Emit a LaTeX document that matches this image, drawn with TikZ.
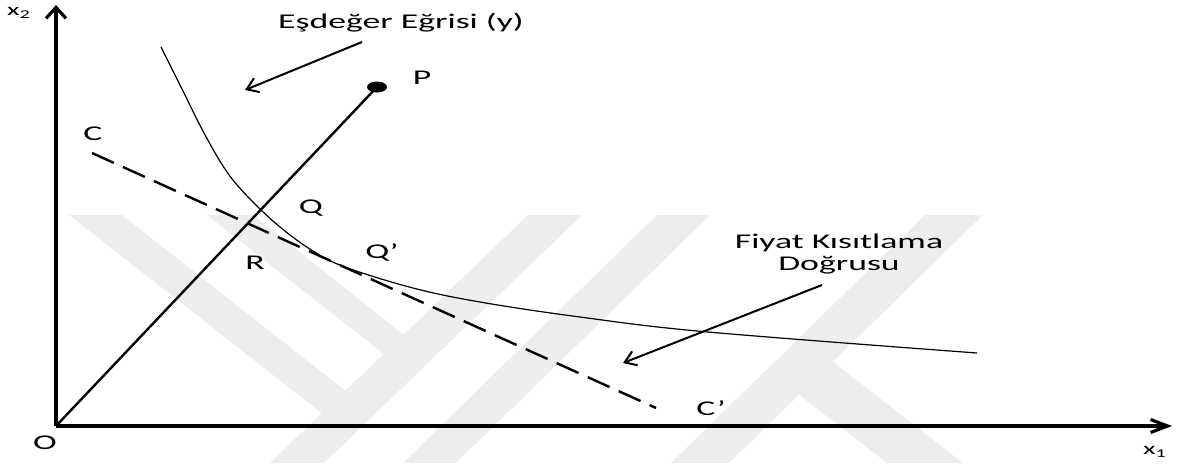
\documentclass[tikz,border=0pt]{standalone}
\usepackage{fontspec}
\setmainfont{Carlito}
\usetikzlibrary{arrows.meta,shapes.geometric}
\newcommand\widetxt[1]{\scalebox{1.7}[1]{#1}}
\begin{document}
\begin{tikzpicture}[x=1pt,y=-1pt,
  lbl/.style={inner sep=0pt, font=\fontsize{21}{25}\selectfont},
  axlbl/.style={inner sep=0pt, font=\fontsize{17}{20}\selectfont},
  wm/.style={fill=black!7, draw=none},
  axisline/.style={line width=3.2pt},
  ray/.style={line width=2.4pt},
  budget/.style={line width=2.4pt, dash pattern=on 24pt off 10pt},
  iso/.style={line width=1.2pt},
  callout/.style={line width=2pt, -{Straight Barb[length=11pt,width=15pt]}},
  dot/.style={ellipse, fill=black, draw=none, minimum width=20pt, minimum height=11pt, inner sep=0pt},
]
\useasboundingbox (0,0) rectangle (1177,463);
% watermark
\fill[wm] (528,215) -- (582,215) -- (324,463) -- (270,463) -- cycle;
\fill[wm] (69,215) -- (122,215) -- (347,392) -- (324,415) -- cycle;
\fill[wm] (207,215) -- (253,215) -- (405,336) -- (385,355) -- cycle;
\fill[wm] (657,215) -- (710,215) -- (456,463) -- (403,463) -- cycle;
\fill[wm] (925,215) -- (983,215) -- (729,463) -- (671,463) -- cycle;
\fill[wm] (798,394) -- (832,361) -- (963,463) -- (887,463) -- cycle;

% coordinates
\coordinate (O) at (56,426);
\coordinate (ytip) at (56,5);
\coordinate (xtip) at (1172,426);
\node[dot] (P) at (377,87) {};
\coordinate (Cs) at (92,153);
\coordinate (Ce) at (656,408);
\coordinate (a1s) at (362,42);
\coordinate (a1e) at (245,90);
\coordinate (a2s) at (822,285);
\coordinate (a2e) at (623,363);

% axes
\draw[axisline, -{Straight Barb[length=11pt,width=20pt]}] (O) -- (ytip);
\draw[axisline, -{Straight Barb[length=17pt,width=13pt]}] (O) -- (xtip);

% ray
\draw[ray] (O) -- (P.center);

% budget line
\draw[budget] (Cs) -- (Ce);

% isoquant
\draw[iso] plot[smooth, tension=0.6] coordinates {(161,47) (183,91) (204,133) (227,172) (250,199) (280,227) (313,251) (345,267) (413,288) (480,302) (580,317) (708,332) (977,353)};

% callouts
\draw[callout] (a1s) -- (a1e);
\draw[callout] (a2s) -- (a2e);

% labels
\node[lbl] (tIso) at (401,23) {\widetxt{Eşdeğer Eğrisi (y)}};
\node[lbl] (tP) at (422,78) {\widetxt{P}};
\node[lbl] (tC) at (93,134) {\widetxt{C}};
\node[lbl] (tQ) at (311,208) {\widetxt{Q}};
\node[lbl] (tQp) at (382,252) {\widetxt{Q’}};
\node[lbl] (tR) at (255,263) {\widetxt{R}};
\node[lbl] (tCp) at (711,408) {\widetxt{C’}};
\node[lbl, align=center] (tFiy) at (839,254) {\widetxt{Fiyat Kısıtlama}\\[-3pt]\widetxt{Doğrusu}};
\node[lbl] (tO) at (45,443) {\widetxt{O}};
\node[axlbl] (tx2) at (19,13) {\widetxt{x\textsubscript{2}}};
\node[axlbl] (tx1) at (1155,452) {\widetxt{x\textsubscript{1}}};
\end{tikzpicture}
\end{document}
